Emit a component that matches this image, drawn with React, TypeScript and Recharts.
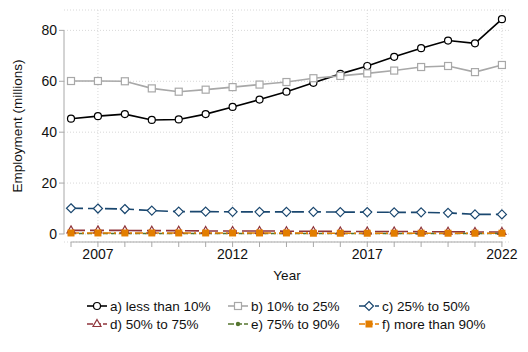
import React from "react";
import { LineChart, Line, XAxis, YAxis, CartesianGrid, ReferenceLine, Label } from "recharts";

const years = [2006, 2007, 2008, 2009, 2010, 2011, 2012, 2013, 2014, 2015, 2016, 2017, 2018, 2019, 2020, 2021, 2022];
const lessThan10 = [45.3, 46.3, 47.1, 44.8, 45.0, 47.1, 49.9, 52.8, 55.9, 59.4, 62.9, 66.0, 69.6, 73.0, 76.0, 74.9, 84.4];
const from10to25 = [60.1, 60.1, 60.0, 57.2, 55.9, 56.7, 57.7, 58.7, 59.7, 61.2, 62.1, 63.1, 64.2, 65.6, 66.0, 63.6, 66.4];
const from25to50 = [10.1, 10.0, 9.8, 9.2, 8.8, 8.8, 8.7, 8.7, 8.7, 8.7, 8.6, 8.6, 8.5, 8.5, 8.3, 7.7, 7.7];
const from50to75 = [1.4, 1.4, 1.4, 1.3, 1.3, 1.2, 1.2, 1.2, 1.1, 1.1, 1.0, 1.0, 1.0, 0.9, 0.9, 0.8, 0.8];
const from75to90 = [0.2, 0.2, 0.2, 0.2, 0.2, 0.2, 0.2, 0.2, 0.2, 0.2, 0.2, 0.2, 0.2, 0.2, 0.2, 0.2, 0.2];
const over90 = [0.4, 0.4, 0.4, 0.4, 0.4, 0.4, 0.4, 0.4, 0.4, 0.3, 0.3, 0.3, 0.3, 0.3, 0.3, 0.3, 0.3];

const yTicks = [0, 20, 40, 60, 80];
const labelYears = [2007, 2012, 2017, 2022];

const data = years.map((year, i) => ({
  year,
  a: lessThan10[i],
  b: from10to25[i],
  c: from25to50[i],
  d: from50to75[i],
  e: from75to90[i],
  f: over90[i],
}));

const FONT = "Arial, 'Liberation Sans', sans-serif";

type Shape = "circle" | "square" | "diamond" | "triangle" | "dot" | "fsquare";

const Marker = ({ cx, cy, shape, color }: { cx: number; cy: number; shape: Shape; color: string }) => {
  if (cx == null || cy == null) return null;
  switch (shape) {
    case "circle":
      return <circle cx={cx} cy={cy} r={3.5} fill="#fff" stroke={color} strokeWidth={1.2} />;
    case "square":
      return <rect x={cx - 3.5} y={cy - 3.5} width={7} height={7} fill="#fff" stroke={color} strokeWidth={1.2} />;
    case "diamond":
      return <path d={`M${cx},${cy - 4.5} L${cx + 4.5},${cy} L${cx},${cy + 4.5} L${cx - 4.5},${cy} Z`} fill="#fff" stroke={color} strokeWidth={1.2} />;
    case "triangle":
      return <path d={`M${cx},${cy - 4.5} L${cx + 4},${cy + 2.5} L${cx - 4},${cy + 2.5} Z`} fill="#fff" stroke={color} strokeWidth={1.2} />;
    case "dot":
      return <circle cx={cx} cy={cy} r={2.2} fill={color} />;
    case "fsquare":
      return <rect x={cx - 3.5} y={cy - 3.5} width={7} height={7} fill={color} />;
  }
  return null;
};

const series = [
  { key: "a", name: "a) less than 10%", color: "#000000", dash: undefined, shape: "circle" as Shape },
  { key: "b", name: "b) 10% to 25%", color: "#a8a8a8", dash: undefined, shape: "square" as Shape },
  { key: "c", name: "c) 25% to 50%", color: "#1a476f", dash: "12 5", shape: "diamond" as Shape },
  { key: "d", name: "d) 50% to 75%", color: "#90353b", dash: "14 5", shape: "triangle" as Shape },
  { key: "e", name: "e) 75% to 90%", color: "#55752f", dash: "5 3", shape: "dot" as Shape },
  { key: "f", name: "f) more than 90%", color: "#e37e00", dash: "8 3 2 3", shape: "fsquare" as Shape },
];

const legendCols = [87, 228, 359];
const legendRows = [306, 324];

export default function App() {
  return (
    <div style={{ position: "absolute", left: 0, top: 0, width: 528, height: 352, background: "#fff", fontFamily: FONT }}>
      <LineChart width={528} height={352} data={data} margin={{ top: 10, right: 18, left: 0, bottom: 70 }}>
        <CartesianGrid vertical={false} stroke="#d8d8d8" strokeDasharray="1 2" />
        {labelYears.map((y) => (
          <ReferenceLine key={y} x={y} stroke="#d8d8d8" strokeDasharray="1 2" />
        ))}
        <XAxis
          dataKey="year"
          type="number"
          domain={[2005.74, 2022.3]}
          ticks={years}
          interval={0}
          tickFormatter={(v: number) => (labelYears.includes(v) ? String(v) : "")}
          axisLine={false}
          tickLine={{ stroke: "#a8a8a8" }}
          tickSize={5}
          tick={{ fill: "#111", fontSize: 14, fontFamily: FONT }}
          height={40}
        >
          <Label value="Year" position="insideBottom" offset={2} style={{ fill: "#111", fontSize: 13.5, fontFamily: FONT }} />
        </XAxis>
        <YAxis
          type="number"
          domain={[-3.15, 88]}
          ticks={yTicks}
          allowDataOverflow
          axisLine={false}
          tickLine={{ stroke: "#a8a8a8" }}
          tickSize={5}
          tick={{ fill: "#111", fontSize: 14, fontFamily: FONT }}
          width={64}
        >
          <Label
            value="Employment (millions)"
            angle={-90}
            position="insideLeft"
            offset={17}
            style={{ textAnchor: "middle", fill: "#111", fontSize: 13.5, fontFamily: FONT }}
          />
        </YAxis>
        <ReferenceLine segment={[{ x: 2005.74, y: 0 }, { x: 2005.74, y: 80 }]} stroke="#a8a8a8" ifOverflow="visible" />
        <ReferenceLine segment={[{ x: 2006, y: -3.15 }, { x: 2022, y: -3.15 }]} stroke="#a8a8a8" ifOverflow="visible" />
        {series.map((s) => (
          <Line
            key={s.key}
            dataKey={s.key}
            name={s.name}
            stroke={s.color}
            strokeWidth={1.6}
            strokeDasharray={s.dash}
            isAnimationActive={false}
            dot={(p: any) => <Marker key={`${s.key}-${p.index}`} cx={p.cx} cy={p.cy} shape={s.shape} color={s.color} />}
            activeDot={false}
          />
        ))}
      </LineChart>
      {series.map((s, i) => {
        const left = legendCols[i % 3];
        const top = legendRows[Math.floor(i / 3)];
        return (
          <div key={s.key} style={{ position: "absolute", left, top: top - 9, height: 18, display: "flex", alignItems: "center" }}>
            <svg width={20} height={18}>
              <line x1={0} y1={9} x2={20} y2={9} stroke={s.color} strokeWidth={1.6} strokeDasharray={s.dash ? "6 2" : undefined} />
              <Marker cx={10} cy={9} shape={s.shape} color={s.color} />
            </svg>
            <span style={{ marginLeft: 3, fontSize: 13.5, color: "#111", whiteSpace: "nowrap" }}>{s.name}</span>
          </div>
        );
      })}
    </div>
  );
}
